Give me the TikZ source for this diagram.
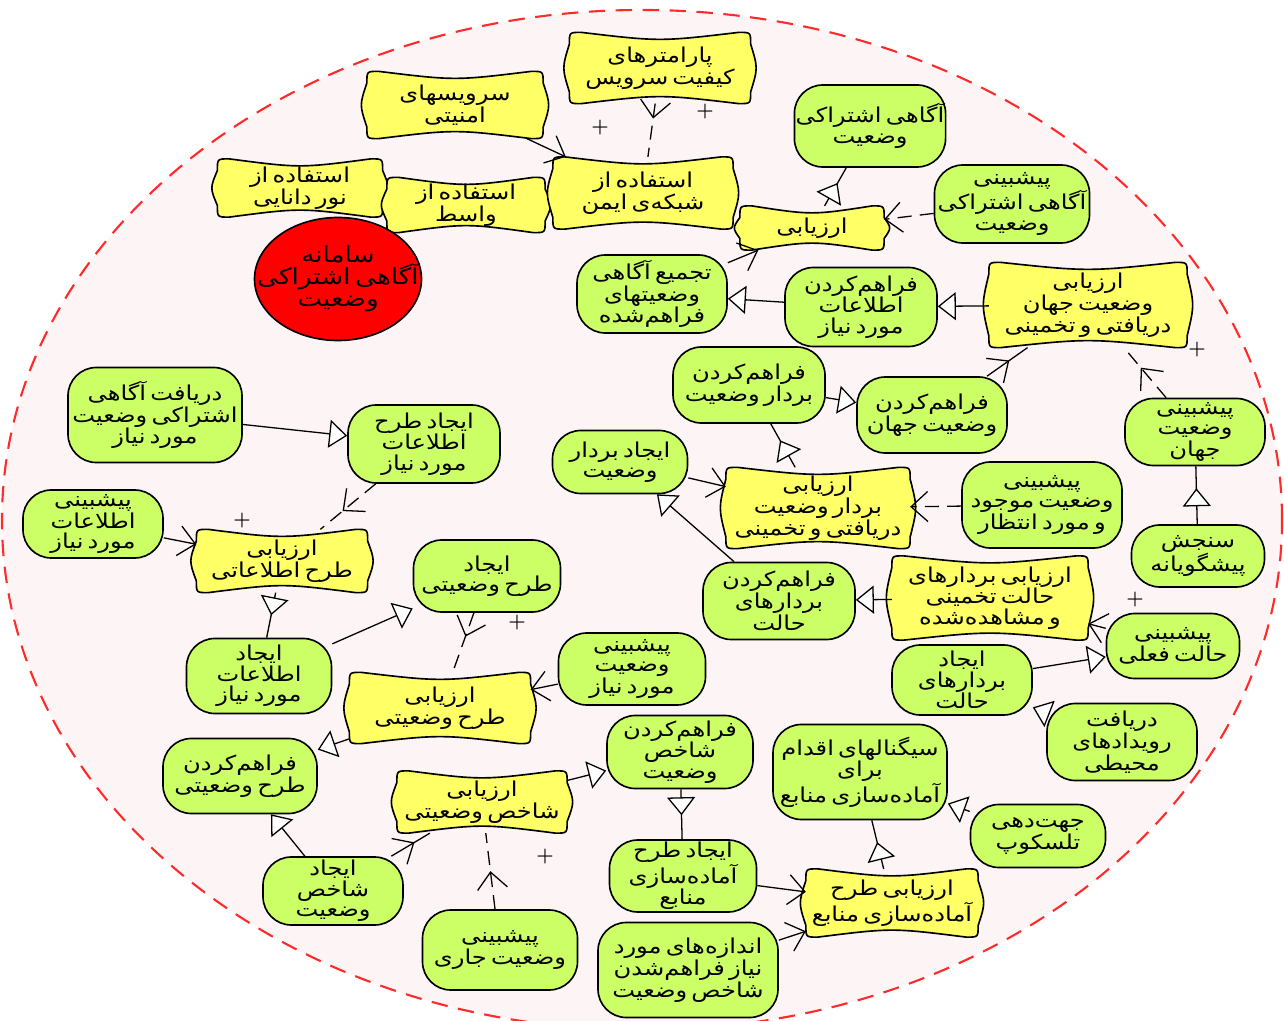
\documentclass[tikz,border=0pt]{standalone}
\usepackage{fontspec}
\usepackage{tikz}
\usetikzlibrary{arrows.meta,shapes.geometric,backgrounds,decorations.markings}
\TeXXeTstate=1
\newfontfamily\farsi[Script=Arabic,FakeStretch=1.18,WordSpace=0.55]{DejaVu Sans}
\definecolor{goalgreen}{HTML}{CCFF66}
\definecolor{taskyellow}{HTML}{FFFF66}
\definecolor{bgpink}{HTML}{FDF5F5}
\definecolor{dashred}{HTML}{FF2B2B}
\newcommand{\fa}[1]{\beginR#1\endR}
\newcommand{\cushion}[1]{%
  \draw[cushionline] ([xshift=3.5mm]#1.north west)
    .. controls ([yshift=-2.8mm]#1.north) .. ([xshift=-3.5mm]#1.north east)
    .. controls (#1.north east) .. ([yshift=-3.5mm]#1.north east)
    .. controls ([xshift=2.2mm]#1.east) .. ([yshift=3.5mm]#1.south east)
    .. controls (#1.south east) .. ([xshift=-3.5mm]#1.south east)
    .. controls ([yshift=2.8mm]#1.south) .. ([xshift=3.5mm]#1.south west)
    .. controls (#1.south west) .. ([yshift=3.5mm]#1.south west)
    .. controls ([xshift=-2.2mm]#1.west) .. ([yshift=-3.5mm]#1.north west)
    .. controls (#1.north west) .. ([xshift=3.5mm]#1.north west) -- cycle;}
\tikzset{
  metip/.tip={Triangle[fill=white,length=5.4mm,width=8.4mm]},
  cttip/.tip={Straight Barb[length=5mm,width=9mm]}
}

\begin{document}
\begin{tikzpicture}[
        x=0.03cm, y=-0.03cm, line width=1.1pt,
        sz/.style 2 args = {minimum width=#1*0.03cm, minimum height=#2*0.03cm},
        goal/.style = {draw, line width=1.4pt, fill=goalgreen, rounded corners=0.85cm, align=center, inner sep=1pt, font=\farsi\fontsize{17.5}{17.5}\selectfont},
        task/.style = {rectangle, align=center, inner sep=1pt, font=\farsi\fontsize{17.5}{17.5}\selectfont},
        actor/.style = {draw, ellipse, line width=1.4pt, fill=red, inner sep=0pt},
        cushionline/.style = {draw, line width=1.4pt, fill=taskyellow},
        plus/.style = {font=\bfseries\fontsize{17}{17}\selectfont, inner sep=0pt},
        means/.style = {-{metip}},
        ctr/.style = {-{cttip}},
        trimark/.style = {postaction={decorate, decoration={markings, mark=at position #1 with {\arrow{metip}}}}},
        barbmark/.style = {postaction={decorate, decoration={markings, mark=at position #1 with {\arrow{cttip}}}}},
        dashline/.style = {dash pattern=on 12pt off 7pt}
        ]
        \useasboundingbox (0,0) rectangle (1284,1021);

        \node[task, sz={175}{66}] (secsrv) at (455,105) {\fa{سرویسهای}\\\fa{امنیتی}};
        \node[task, sz={180}{70}] (qos) at (660,68) {\fa{پارامترهای}\\\fa{کیفیت سرویس}};
        \node[task, sz={164}{57}] (nourd) at (300,188) {\fa{استفاده از}\\\fa{نور دانایی}};
        \node[task, sz={157}{54}] (wasat) at (466,205) {\fa{استفاده از}\\\fa{واسط}};
        \node[task, sz={179}{71}] (safenet) at (643,193) {\fa{استفاده از}\\\fa{شبکه‌ی ایمن}};
        \node[task, sz={143}{43}] (evalsa) at (812,228) {\fa{ارزیابی}};
        \node[task, sz={197}{84}] (evalworld) at (1088,305) {\fa{ارزیابی}\\\fa{وضعیت جهان}\\\fa{دریافتی و تخمینی}};
        \node[task, sz={183}{80}] (evalvec) at (818,508) {\fa{ارزیابی}\\\fa{بردار وضعیت}\\\fa{دریافتی و تخمینی}};
        \node[task, sz={170}{62}] (evalinfo) at (282,561) {\fa{ارزیابی}\\\fa{طرح اطلاعاتی}};
        \node[task, sz={195}{83}] (evalstate) at (990,598) {\fa{ارزیابی بردارهای}\\\fa{حالت تخمینی}\\\fa{و مشاهده‌شده}};
        \node[task, sz={180}{70}] (evalplan) at (440,708) {\fa{ارزیابی}\\\fa{طرح وضعیتی}};
        \node[task, sz={169}{61}] (evalidx) at (482,802) {\fa{ارزیابی}\\\fa{شاخص وضعیتی}};
        \node[task, sz={171}{67}] (evalres) at (892,903) {\fa{ارزیابی طرح}\\\fa{آماده‌سازی منابع}};

        \node[goal, sz={150}{82}] (shared) at (870,126) {\fa{آگاهی اشتراکی}\\\fa{وضعیت}};
        \node[goal, sz={155}{78}] (predshared) at (1012,204) {\fa{پیشبینی}\\\fa{آگاهی اشتراکی}\\\fa{وضعیت}};
        \node[goal, sz={150}{78}] (aggr) at (652,294) {\fa{تجمیع آگاهی}\\\fa{وضعیتهای}\\\fa{فراهم‌شده}};
        \node[goal, sz={152}{79}] (provinfo) at (861,307) {\fa{فراهم‌کردن}\\\fa{اطلاعات}\\\fa{مورد نیاز}};
        \node[goal, sz={174}{95}] (recvshared) at (155,415) {\fa{دریافت آگاهی}\\\fa{اشتراکی وضعیت}\\\fa{مورد نیاز}};
        \node[goal, sz={152}{78}] (mkinfoplan) at (424,444) {\fa{ایجاد طرح}\\\fa{اطلاعات}\\\fa{مورد نیاز}};
        \node[goal, sz={152}{76}] (provvec) at (749,385) {\fa{فراهم‌کردن}\\\fa{بردار وضعیت}};
        \node[goal, sz={150}{76}] (provworld) at (932,415) {\fa{فراهم‌کردن}\\\fa{وضعیت جهان}};
        \node[goal, sz={140}{67}] (predworld) at (1195,432) {\fa{پیشبینی}\\\fa{وضعیت}\\\fa{جهان}};
        \node[goal, sz={135}{63}] (mkvec) at (620,462) {\fa{ایجاد بردار}\\\fa{وضعیت}};
        \node[goal, sz={160}{86}] (predexp) at (1042,505) {\fa{پیشبینی}\\\fa{وضعیت موجود}\\\fa{و مورد انتظار}};
        \node[goal, sz={140}{68}] (predinfo) at (93,524) {\fa{پیشبینی}\\\fa{اطلاعات}\\\fa{مورد نیاز}};
        \node[goal, sz={133}{62}] (measure) at (1198,556) {\fa{سنجش}\\\fa{پیشگویانه}};
        \node[goal, sz={147}{72}] (mkplan) at (487,576) {\fa{ایجاد}\\\fa{طرح وضعیتی}};
        \node[goal, sz={152}{77}] (provstate) at (779,601) {\fa{فراهم‌کردن}\\\fa{بردارهای}\\\fa{حالت}};
        \node[goal, sz={133}{65}] (predcur) at (1173,646) {\fa{پیشبینی}\\\fa{حالت فعلی}};
        \node[goal, sz={145}{75}] (mkinfo) at (259,676) {\fa{ایجاد}\\\fa{اطلاعات}\\\fa{مورد نیاز}};
        \node[goal, sz={147}{72}] (predneed) at (632,669) {\fa{پیشبینی}\\\fa{وضعیت}\\\fa{مورد نیاز}};
        \node[goal, sz={140}{70}] (mkstate) at (962,680) {\fa{ایجاد}\\\fa{بردارهای}\\\fa{حالت}};
        \node[goal, sz={150}{77}] (recvenv) at (1122,742) {\fa{دریافت}\\\fa{رویدادهای}\\\fa{محیطی}};
        \node[goal, sz={154}{75}] (provplan) at (240,776) {\fa{فراهم‌کردن}\\\fa{طرح وضعیتی}};
        \node[goal, sz={146}{73}] (providx) at (680,752) {\fa{فراهم‌کردن}\\\fa{شاخص}\\\fa{وضعیت}};
        \node[goal, sz={174}{95}] (signals) at (860,772) {\fa{سیگنالهای اقدام}\\\fa{برای}\\\fa{آماده‌سازی منابع}};
        \node[goal, sz={140}{68}] (mkidx) at (333,891) {\fa{ایجاد}\\\fa{شاخص}\\\fa{وضعیت}};
        \node[goal, sz={135}{63}] (telescope) at (1038,836) {\fa{جهت‌دهی}\\\fa{تلسکوپ}};
        \node[goal, sz={155}{80}] (predcurst) at (500,950) {\fa{پیشبینی}\\\fa{وضعیت جاری}};
        \node[goal, sz={147}{72}] (mkres) at (683,876) {\fa{ایجاد طرح}\\\fa{آماده‌سازی}\\\fa{منابع}};
        \node[goal, sz={180}{95}] (sizes) at (688,970) {\fa{اندازه‌های مورد}\\\fa{نیاز فراهم‌شدن}\\\fa{شاخص وضعیت}};

        \node[actor, sz={167}{123}, label={[align=center, font=\farsi\fontsize{19}{19}\selectfont]center:{\beginR سامانه\endR\\\beginR آگاهی اشتراکی\endR\\\beginR وضعیت\endR}}] (system) at (338,279) {};

        \node[plus] (pa) at (600,128) {+};
        \node[plus] (pb) at (705,112) {+};
        \node[plus] (pc) at (1197,350) {+};
        \node[plus] (pd) at (1135,600) {+};
        \node[plus] (pe) at (242,521) {+};
        \node[plus] (pf) at (517,623) {+};
        \node[plus] (pg) at (545,857) {+};

        \begin{scope}[on background layer]
        \draw[dashred, line width=1.8pt, dash pattern=on 14pt off 9pt, fill=bgpink] (642,520) ellipse [x radius=19.2cm, y radius=15.3cm];
        \foreach \n in {secsrv,qos,nourd,wasat,safenet,evalsa,evalworld,evalvec,evalinfo,evalstate,evalplan,evalidx,evalres}
            {\cushion{\n}}
        \end{scope}

        \draw[trimark=.6] (evalsa) -- (shared);
        \draw[means] (provinfo) -- (aggr);
        \draw[means] (evalworld) -- (provinfo);
        \draw[means] (provvec) -- (provworld);
        \draw[trimark=.62] (evalvec) -- (provvec);
        \draw[means] (provstate) -- (mkvec);
        \draw[means] (evalstate) -- (provstate);
        \draw[trimark=.62] (measure) -- (predworld);
        \draw[means] (mkstate) -- (predcur);
        \draw[means] (recvenv) -- (mkstate);
        \draw[means] (recvshared) -- (mkinfoplan);
        \draw[trimark=.5] (evalinfo) -- (mkinfo);
        \draw[means] (mkinfo) -- (mkplan);
        \draw[means] (evalplan) -- (provplan);
        \draw[means] (mkidx) -- (provplan);
        \draw[means] (evalidx) -- (providx);
        \draw[trimark=.52] (providx) -- (mkres);
        \draw[trimark=.55] (evalres) -- (signals);
        \draw[means] (telescope) -- (signals);

        \draw[ctr] (secsrv) -- (safenet);
        \draw[dashline, barbmark=.28] (qos) -- (safenet);
        \draw[dashline, ctr] (predshared) -- (evalsa);
        \draw[ctr] (aggr) -- (evalsa);
        \draw[barbmark=.55] (provworld) -- (evalworld);
        \draw[dashline, barbmark=.6] (predworld) -- (evalworld);
        \draw[ctr] (mkvec) -- (evalvec);
        \draw[dashline, ctr] (predexp) -- (evalvec);
        \draw[ctr] (predcur) -- (evalstate);
        \draw[ctr] (predinfo) -- (evalinfo);
        \draw[dashline, barbmark=.6] (mkinfoplan) -- (evalinfo);
        \draw[dashline, barbmark=.4] (mkplan) -- (evalplan);
        \draw[ctr] (predneed) -- (evalplan);
        \draw[barbmark=.6] (mkidx) -- (evalidx);
        \draw[dashline, barbmark=.5] (predcurst) -- (evalidx);
        \draw[ctr] (mkres) -- (evalres);
        \draw[ctr] (sizes) -- (evalres);
    \end{tikzpicture}
\end{document}
